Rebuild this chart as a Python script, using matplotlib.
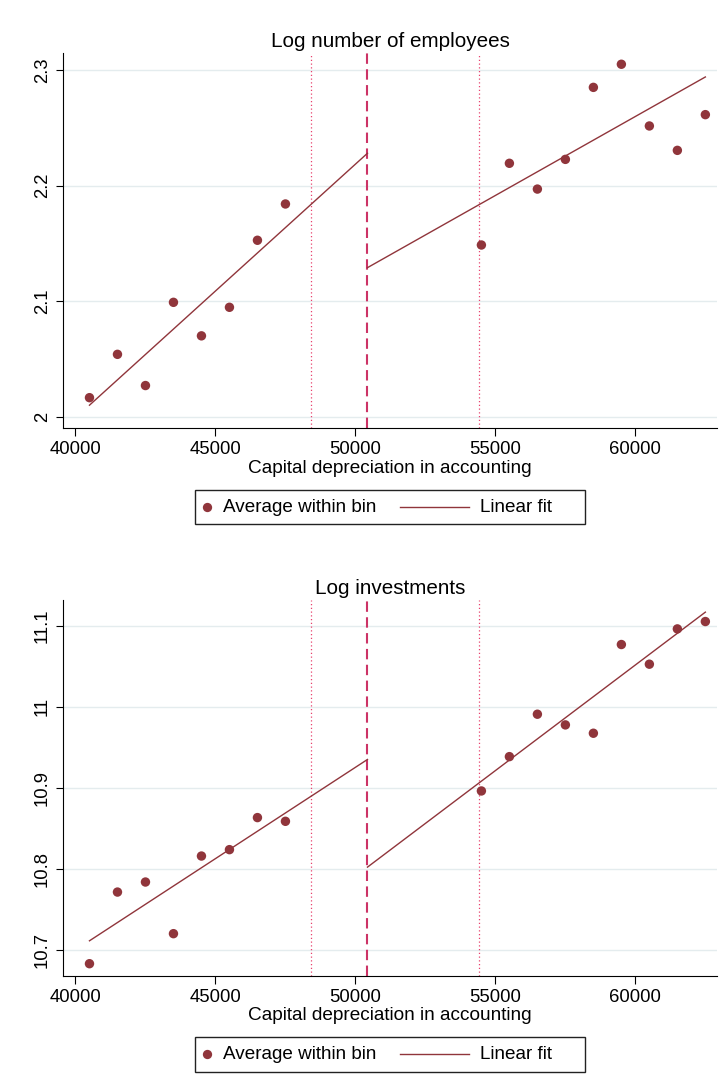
import matplotlib
matplotlib.use("Agg")
import matplotlib.pyplot as plt
from matplotlib.lines import Line2D
from matplotlib.patches import Rectangle
from matplotlib.ticker import FuncFormatter

plt.rcParams['font.family'] = ['Liberation Sans', 'DejaVu Sans']

# bin centres on each side of the threshold
bins_left = [40500, 41500, 42500, 43500, 44500, 45500, 46500, 47500]
bins_right = [54500, 55500, 56500, 57500, 58500, 59500, 60500, 61500, 62500]

emp_left = [2.0165, 2.054, 2.027, 2.099, 2.070, 2.0947, 2.1527, 2.1841]
emp_right = [2.1486, 2.2193, 2.197, 2.2227, 2.285, 2.305, 2.2516, 2.2305, 2.2614]

inv_left = [10.6827, 10.7712, 10.7836, 10.7198, 10.8157, 10.8236, 10.8632, 10.8586]
inv_right = [10.8961, 10.9385, 10.9909, 10.9777, 10.9674, 11.077, 11.0527, 11.0963, 11.1054]

# threshold and the excluded window around it
cutoff = 50430
window = [48400, 54400]

# linear fits, end points
fit_x_left = [40500, cutoff]
fit_x_right = [cutoff, 62500]
emp_fit_left = [2.010, 2.228]
emp_fit_right = [2.129, 2.294]
inv_fit_left = [10.711, 10.935]
inv_fit_right = [10.802, 11.117]

emp_ticks = [2.0, 2.1, 2.2, 2.3]
inv_ticks = [10.7, 10.8, 10.9, 11.0, 11.1]
x_ticks = [40000, 45000, 50000, 55000, 60000]

DOT = '#90353B'
CUT = '#CC3366'
BAND = '#E8426F'
GRID = '#E4ECEE'

W, H = 722, 1090
fig = plt.figure(figsize=(W / 100, H / 100), dpi=100)


def fx(px):
    return px / W


def fy(py):
    return 1 - py / H


def panel(top, title, yl, yr, fl, fr, ticks, ylim):
    left, right, bottom = 63.3, 716.7, top + 375.6
    ax = fig.add_axes([fx(left), fy(bottom), fx(right - left), (bottom - top) / H])
    ax.set_xlim(39565, 62905)
    ax.set_ylim(*ylim)

    for t in ticks:
        ax.axhline(t, color=GRID, lw=1.0, zorder=0)
    for w in window:
        ax.axvline(w, color=BAND, lw=0.9, ls=(0, (1, 2)), zorder=1)
    ax.axvline(cutoff, color=CUT, lw=1.5, ls=(0, (5, 2.6)), zorder=1)

    ax.plot(fit_x_left, fl, color=DOT, lw=1.0, zorder=2)
    ax.plot(fit_x_right, fr, color=DOT, lw=1.0, zorder=2)
    ax.scatter(bins_left, yl, s=46, color=DOT, edgecolors='none', zorder=3)
    ax.scatter(bins_right, yr, s=46, color=DOT, edgecolors='none', zorder=3)

    ax.set_xticks(x_ticks)
    ax.set_yticks(ticks)
    ax.yaxis.set_major_formatter(FuncFormatter(lambda v, p: '%g' % round(v, 2)))
    for s in ['top', 'right']:
        ax.spines[s].set_visible(False)
    for s in ['left', 'bottom']:
        ax.spines[s].set_linewidth(0.8)
    ax.tick_params(axis='x', length=5.4, width=0.8, labelsize=13.3, pad=4)
    ax.tick_params(axis='y', length=4.8, width=0.8, labelsize=13.3, pad=4)
    for lab in ax.get_yticklabels():
        lab.set_rotation(90)
        lab.set_va('center')

    ax.set_title(title, fontsize=14.9, pad=4)
    ax.set_xlabel('Capital depreciation in accounting', fontsize=13.7, labelpad=1)

    # legend box under the axis
    ly0, ly1 = top + 437.3, top + 471.6
    lm = (ly0 + ly1) / 2
    fig.add_artist(Rectangle((fx(195.3), fy(ly1)), fx(585 - 195.3), (ly1 - ly0) / H,
                             transform=fig.transFigure, fill=False,
                             edgecolor='#222222', lw=1.0))
    fig.add_artist(Line2D([fx(207.3)], [fy(lm)], marker='o', ms=6.7, color=DOT,
                          markeredgewidth=0, transform=fig.transFigure))
    fig.text(fx(222.7), fy(lm), 'Average within bin', fontsize=13.6, va='center')
    fig.add_artist(Line2D([fx(400), fx(468.7)], [fy(lm), fy(lm)], color=DOT, lw=1.0,
                          transform=fig.transFigure))
    fig.text(fx(480), fy(lm), 'Linear fit', fontsize=13.6, va='center')
    return ax


panel(52.7, 'Log number of employees', emp_left, emp_right,
      emp_fit_left, emp_fit_right, emp_ticks, (1.990, 2.315))
panel(600.0, 'Log investments', inv_left, inv_right,
      inv_fit_left, inv_fit_right, inv_ticks, (10.668, 11.132))

fig.savefig('out.png', dpi=100, facecolor='white')
